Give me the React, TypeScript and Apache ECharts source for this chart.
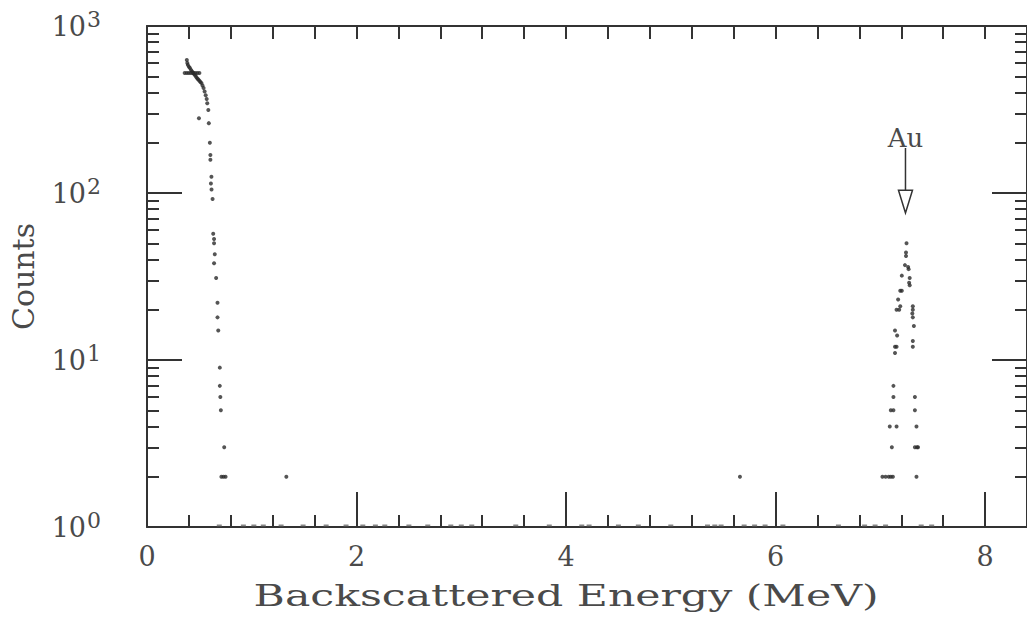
import React, { useEffect, useRef } from "react";
import * as echarts from "echarts";

// ---- data ----
const lightEnergy = [
  0.38, 0.385, 0.39, 0.4, 0.41, 0.42, 0.43, 0.44, 0.45, 0.46, 0.47, 0.48, 0.49, 0.5, 0.51, 0.52, 0.53, 0.54, 0.55, 0.56, 0.57, 0.575,
  0.36, 0.38, 0.4, 0.42, 0.44, 0.46, 0.48, 0.5,
  0.496, 0.585, 0.59, 0.6, 0.605, 0.605, 0.615, 0.61, 0.616, 0.626, 0.632, 0.64, 0.64, 0.647, 0.64, 0.66, 0.673, 0.673, 0.68, 0.695,
  0.695, 0.7, 0.705, 0.737, 0.71, 0.73, 0.75,
];
const lightCounts = [
  626, 600, 585, 570, 560, 545, 535, 525, 515, 505, 495, 485, 478, 470, 462, 455, 440, 425, 405, 385, 365, 345,
  523, 523, 523, 523, 523, 523, 523, 523,
  280, 314, 262, 200, 169, 158, 125, 114, 105, 92, 57, 53, 50, 43, 38, 31, 22, 18, 15, 9,
  7, 6, 5, 3, 2, 2, 2,
];
const auEnergy = [
  7.25, 7.245, 7.245, 7.235, 7.265, 7.27, 7.205, 7.28, 7.275, 7.19, 7.205, 7.28, 7.17, 7.155, 7.19, 7.18,
  7.31, 7.31, 7.305, 7.31, 7.32, 7.14, 7.16, 7.14, 7.155, 7.14, 7.31, 7.31,
  7.125, 7.125, 7.33, 7.1, 7.125, 7.33, 7.09, 7.155, 7.345, 7.11, 7.33, 7.35, 7.36,
  7.02, 7.05, 7.08, 7.1, 7.12, 7.345,
];
const auCounts = [
  50, 44, 42, 37, 36, 35, 32, 31, 29, 26, 26, 28, 23, 20, 21, 20,
  21, 20, 19, 18, 16, 15, 14, 12, 12, 11, 13, 12,
  7, 6, 6, 5, 5, 5, 4, 4, 4, 3, 3, 3, 3,
  2, 2, 2, 2, 2, 2,
];
const strayEnergy = [1.33, 5.66];
const strayCounts = [2, 2];
const singleEnergy = [
  0.69, 0.92, 1.02, 1.11, 1.28, 1.49, 1.71, 1.9, 2.06, 2.18, 2.27, 2.5, 2.68, 2.9, 3.0, 3.1, 3.52, 3.84, 4.15,
  4.22, 4.5, 4.69, 5.0, 5.35, 5.42, 5.48, 5.7, 5.8, 5.9, 6.07, 6.6, 6.85, 6.95, 7.05, 7.39, 7.49,
];
const singleCount = 1;

const xMin = 0;
const xMax = 8.4;
const xMajorStep = 2;
const xMinorSplit = 5;
const xTopStep = 0.4;
const yMin = 1;
const yMax = 1000;

const auLabel = "Au";
const auMarkEnergy = 7.24;
const auLabelCount = 213;
const auArrowTop = 186;
const auArrowBase = 104;
const auArrowTip = 76;

const xTitle = "Backscattered Energy (MeV)";
const xTitleCenterEnergy = 4;
const yTitle = "Counts";

const FONT = "DejaVu Serif";
const INK = "#333333";
const TEXT = "#4a4a4a";

const pairs = (xs: number[], ys: number[]) => xs.map((x, i) => [x, ys[i]]);

export default function App() {
  const ref = useRef<HTMLDivElement>(null);
  useEffect(() => {
    if (!ref.current) return;
    const chart = echarts.init(ref.current, null, { renderer: "svg" });
    const axisLine = { show: true, onZero: false, lineStyle: { color: INK, width: 2 } };
    const option: any = {
      animation: false,
      backgroundColor: "#ffffff",
      grid: { left: 145, top: 26, bottom: 96, right: -4, containLabel: false },
      xAxis: [
        {
          type: "value",
          position: "bottom",
          min: xMin,
          max: xMax,
          interval: xMajorStep,
          axisLine,
          axisTick: { show: true, inside: true, length: 35, lineStyle: { color: INK, width: 2 } },
          minorTick: { show: true, splitNumber: xMinorSplit, length: 12, lineStyle: { color: INK, width: 2 } },
          splitLine: { show: false },
          axisLabel: {
            show: true,
            margin: 16,
            showMaxLabel: false,
            fontFamily: FONT,
            fontSize: 27,
            color: TEXT,
          },
        },
        {
          type: "value",
          position: "top",
          min: xMin,
          max: xMax,
          interval: xTopStep,
          axisLine,
          axisTick: { show: true, inside: true, length: 13, lineStyle: { color: INK, width: 2 } },
          axisLabel: { show: false },
          splitLine: { show: false },
        },
      ],
      yAxis: [
        {
          type: "log",
          logBase: 10,
          position: "left",
          min: yMin,
          max: yMax,
          axisLine,
          axisTick: { show: true, inside: true, length: 35, lineStyle: { color: INK, width: 2 } },
          minorTick: { show: true, splitNumber: 9, length: 12, lineStyle: { color: INK, width: 2 } },
          splitLine: { show: false },
          axisLabel: {
            show: true,
            margin: 46,
            formatter: (v: number) => `{b|10}{s|${Math.round(Math.log10(v))}}`,
            rich: {
              b: { fontFamily: FONT, fontSize: 27, color: TEXT },
              s: { fontFamily: FONT, fontSize: 22, color: TEXT, padding: [0, 0, 13, 1] },
            },
          },
          name: yTitle,
          nameLocation: "middle",
          nameGap: 109,
          nameTextStyle: { fontFamily: FONT, fontSize: 30, color: TEXT },
        },
        {
          type: "log",
          logBase: 10,
          position: "right",
          min: yMin,
          max: yMax,
          axisLine,
          axisTick: { show: true, inside: true, length: 35, lineStyle: { color: INK, width: 2 } },
          minorTick: { show: true, splitNumber: 9, length: 12, lineStyle: { color: INK, width: 2 } },
          splitLine: { show: false },
          axisLabel: { show: false },
        },
      ],
      series: [
        {
          type: "scatter",
          name: "substrate",
          xAxisIndex: 0,
          yAxisIndex: 0,
          symbol: "circle",
          symbolSize: 4,
          itemStyle: { color: "#2b2b2b" },
          data: pairs(lightEnergy, lightCounts),
        },
        {
          type: "scatter",
          name: "Au",
          xAxisIndex: 0,
          yAxisIndex: 0,
          symbol: "circle",
          symbolSize: 4,
          itemStyle: { color: "#2b2b2b" },
          data: pairs(auEnergy, auCounts),
        },
        {
          type: "scatter",
          name: "stray",
          xAxisIndex: 0,
          yAxisIndex: 0,
          symbol: "circle",
          symbolSize: 4,
          itemStyle: { color: "#2b2b2b" },
          data: pairs(strayEnergy, strayCounts),
        },
        {
          type: "scatter",
          name: "single",
          xAxisIndex: 0,
          yAxisIndex: 0,
          symbol: "rect",
          symbolSize: [5, 2],
          symbolOffset: [0, -1.5],
          itemStyle: { color: "#6a6a6a" },
          data: singleEnergy.map((x) => [x, singleCount]),
        },
      ],
    };
    chart.setOption(option);

    const p = (e: number, c: number) =>
      chart.convertToPixel({ xAxisIndex: 0, yAxisIndex: 0 }, [e, c]) as number[];
    const pl = p(auMarkEnergy, auLabelCount);
    const pt = p(auMarkEnergy, auArrowTop);
    const pb = p(auMarkEnergy, auArrowBase);
    const pk = p(auMarkEnergy, auArrowTip);
    const px = p(xTitleCenterEnergy, yMin);
    const half = 7;
    chart.setOption({
      graphic: [
        {
          type: "text",
          x: pl[0],
          y: pl[1],
          style: { text: auLabel, fontFamily: FONT, fontSize: 26, fill: TEXT, align: "center", verticalAlign: "middle" },
        },
        {
          type: "line",
          shape: { x1: pt[0], y1: pt[1], x2: pb[0], y2: pb[1] },
          style: { stroke: INK, lineWidth: 1.5 },
        },
        {
          type: "polygon",
          shape: { points: [[pb[0] - half, pb[1]], [pb[0] + half, pb[1]], [pk[0], pk[1]]] },
          style: { fill: "#ffffff", stroke: INK, lineWidth: 1.5 },
        },
        {
          type: "text",
          x: px[0],
          y: px[1] + 69,
          scaleX: 1.42,
          style: { text: xTitle, fontFamily: FONT, fontSize: 30, fill: TEXT, align: "center", verticalAlign: "middle" },
        },
      ],
    });
    return () => chart.dispose();
  }, []);
  return (
    <div
      ref={ref}
      style={{ position: "fixed", left: 0, top: 0, width: 1027, height: 623, background: "#fff" }}
    />
  );
}
